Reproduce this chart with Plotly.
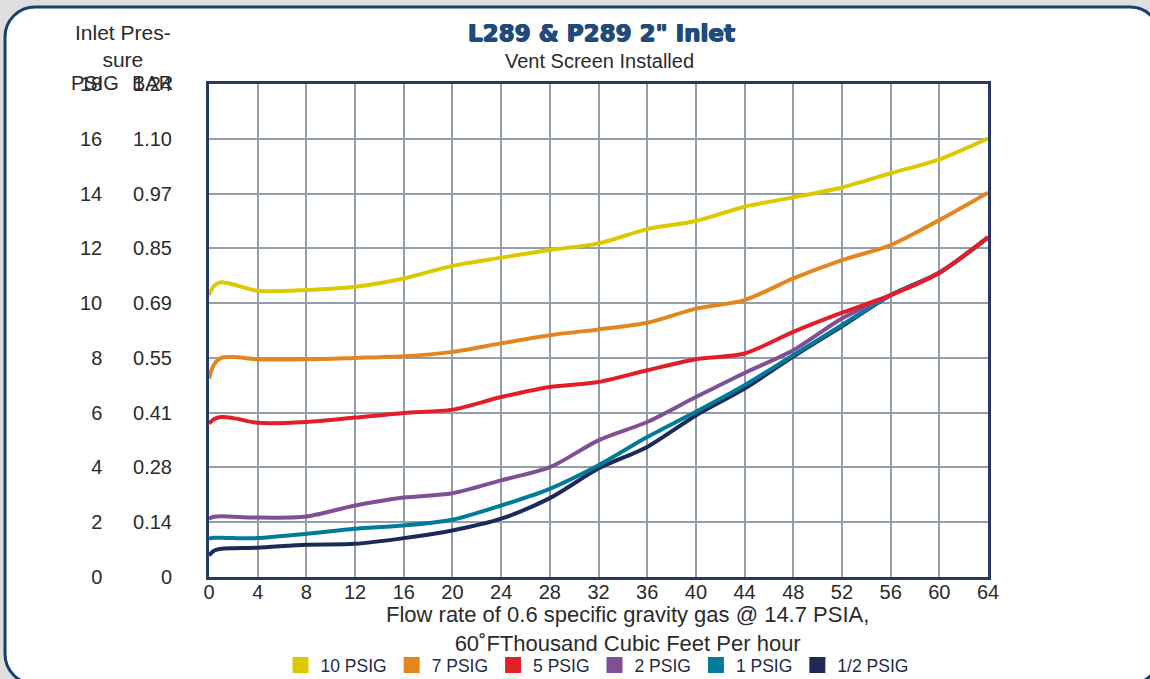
import plotly.graph_objects as go

# ---------------- data ----------------
flow_x = [0, 0.4, 1, 2, 4, 8, 12, 16, 20, 24, 28, 32, 36, 40, 44, 48, 52, 56, 60, 64]

psig_10 = [10.3, 10.62, 10.76, 10.68, 10.45, 10.48, 10.6, 10.9, 11.36, 11.66, 11.94, 12.18, 12.7, 13.0, 13.52, 13.86, 14.22, 14.74, 15.25, 16.02]
psig_7 = [7.25, 7.75, 8.0, 8.03, 7.95, 7.95, 8.0, 8.06, 8.22, 8.53, 8.83, 9.04, 9.28, 9.8, 10.11, 10.9, 11.57, 12.12, 13.03, 14.03]
psig_5 = [5.6, 5.76, 5.84, 5.8, 5.63, 5.66, 5.82, 5.99, 6.11, 6.57, 6.94, 7.12, 7.55, 7.95, 8.16, 8.95, 9.65, 10.29, 11.11, 12.4]
psig_2 = [2.13, 2.2, 2.22, 2.2, 2.17, 2.21, 2.61, 2.9, 3.06, 3.53, 4.01, 4.99, 5.66, 6.57, 7.45, 8.28, 9.44, 10.29, 11.11, 12.4]
psig_1 = [1.4, 1.43, 1.43, 1.42, 1.42, 1.58, 1.76, 1.88, 2.09, 2.61, 3.22, 4.08, 5.11, 6.03, 7.0, 8.1, 9.2, 10.29, 11.11, 12.4]
psig_half = [0.79, 0.96, 1.03, 1.05, 1.07, 1.18, 1.21, 1.42, 1.7, 2.13, 2.88, 3.96, 4.75, 5.9, 6.88, 8.05, 9.15, 10.29, 11.11, 12.4]

series_names = ["10 PSIG", "7 PSIG", "5 PSIG", "2 PSIG", "1 PSIG", "1/2 PSIG"]
series_values = [psig_10, psig_7, psig_5, psig_2, psig_1, psig_half]
series_colors = ["#dcc900", "#e3861f", "#e31e28", "#7f5096", "#007b9b", "#1b2a58"]

x_ticks = list(range(0, 65, 4))
y_ticks = list(range(0, 19, 2))
psig_labels = ["0", "2", "4", "6", "8", "10", "12", "14", "16", "18"]
bar_labels = ["0", "0.14", "0.28", "0.41", "0.55", "0.69", "0.85", "0.97", "1.10", "1.24"]

title_text = "L289 & P289 2\" Inlet"
subtitle_text = "Vent Screen Installed"
y_header = "Inlet Pres-<br>sure"
x_title = "Flow rate of 0.6 specific gravity gas @ 14.7 PSIA,<br>60\u02daFThousand Cubic Feet Per hour"

# ---------------- layout geometry ----------------
W, H = 1150, 679
ML, MR, MT, MB = 209, 162, 84, 102
PW = W - ML - MR
PH = H - MT - MB


def px(x):
    return (x - ML) / PW


def py(y):
    return (H - MB - y) / PH


fig = go.Figure()

# lines drawn from lowest to highest so the red line sits on top at the right end
for name, vals, col in reversed(list(zip(series_names, series_values, series_colors))):
    fig.add_trace(go.Scatter(
        x=flow_x, y=vals, mode="lines", name=name,
        line=dict(color=col, width=4, shape="spline", smoothing=0.8),
        showlegend=False, hoverinfo="x+y+name",
    ))

# legend squares
for name, col in zip(series_names, series_colors):
    fig.add_trace(go.Scatter(
        x=[None], y=[None], mode="markers", name=name, yaxis="y2",
        marker=dict(symbol="square", size=18, color=col),
        showlegend=True,
    ))


def rounded_rect(x0, y0, x1, y1, r):
    k = 0.5523 * r
    pts = [
        f"M {px(x0 + r)},{py(y0)}",
        f"L {px(x1 - r)},{py(y0)}",
        f"C {px(x1 - r + k)},{py(y0)} {px(x1)},{py(y0 + r - k)} {px(x1)},{py(y0 + r)}",
        f"L {px(x1)},{py(y1 - r)}",
        f"C {px(x1)},{py(y1 - r + k)} {px(x1 - r + k)},{py(y1)} {px(x1 - r)},{py(y1)}",
        f"L {px(x0 + r)},{py(y1)}",
        f"C {px(x0 + r - k)},{py(y1)} {px(x0)},{py(y1 - r + k)} {px(x0)},{py(y1 - r)}",
        f"L {px(x0)},{py(y0 + r)}",
        f"C {px(x0)},{py(y0 + r - k)} {px(x0 + r - k)},{py(y0)} {px(x0 + r)},{py(y0)}",
        "Z",
    ]
    return " ".join(pts)


shapes = [dict(
    type="path", xref="paper", yref="paper", layer="below",
    path=rounded_rect(5, 7, 1160, 684, 30),
    fillcolor="white", line=dict(color="#173f70", width=3),
)]

txt = "#2b2b2b"
title_col = "#1f4b7c"
annotations = [
    dict(text="<b>" + title_text + "</b>", x=px(601), y=py(33), xref="paper", yref="paper",
         showarrow=False, xanchor="center", yanchor="middle",
         font=dict(family="DejaVu Sans", size=23, color=title_col,
                   shadow=f"0.7px 0 0 {title_col}, -0.7px 0 0 {title_col}, 0 0.5px 0 {title_col}")),
    dict(text=subtitle_text, x=px(599), y=py(61), xref="paper", yref="paper",
         showarrow=False, xanchor="center", yanchor="middle",
         font=dict(family="Liberation Sans", size=20, color=txt)),
    dict(text=y_header, x=px(123), y=py(46), xref="paper", yref="paper",
         showarrow=False, xanchor="center", yanchor="middle",
         font=dict(family="Liberation Sans", size=21, color=txt)),
    dict(text="PSIG", x=px(95), y=py(83), xref="paper", yref="paper",
         showarrow=False, xanchor="center", yanchor="middle",
         font=dict(family="Liberation Sans", size=20, color=txt)),
    dict(text="BAR", x=px(152), y=py(83), xref="paper", yref="paper",
         showarrow=False, xanchor="center", yanchor="middle",
         font=dict(family="Liberation Sans", size=20, color=txt)),
    dict(text=x_title, x=px(627), y=py(629), xref="paper", yref="paper",
         showarrow=False, xanchor="center", yanchor="middle",
         font=dict(family="Liberation Sans", size=22, color=txt)),
]

grid_col = "#939eaa"
axis_col = "#263863"

fig.update_layout(
    width=W, height=H, autosize=False,
    margin=dict(l=ML, r=MR, t=MT, b=MB, pad=0, autoexpand=False),
    paper_bgcolor="#dedede", plot_bgcolor="white",
    shapes=shapes, annotations=annotations,
    xaxis=dict(
        range=[0, 64], tickmode="array", tickvals=x_ticks,
        showgrid=True, gridcolor=grid_col, gridwidth=1.5,
        showline=True, mirror=True, linecolor=axis_col, linewidth=2.5,
        zeroline=False, ticks="", ticklabelstandoff=-5,
        tickfont=dict(family="Liberation Sans", size=20, color=txt),
    ),
    yaxis=dict(
        range=[0, 18], tickmode="array", tickvals=y_ticks, ticktext=psig_labels,
        showgrid=True, gridcolor=grid_col, gridwidth=1.5,
        showline=True, mirror=True, linecolor=axis_col, linewidth=2.5,
        zeroline=False, ticks="", ticklabelstandoff=100,
        tickfont=dict(family="Liberation Sans", size=20, color=txt),
    ),
    yaxis2=dict(
        range=[0, 18], tickmode="array", tickvals=y_ticks, ticktext=bar_labels,
        overlaying="y", side="left", showgrid=False, showline=False,
        zeroline=False, ticks="", ticklabelstandoff=36,
        tickfont=dict(family="Liberation Sans", size=20, color=txt),
    ),
    legend=dict(
        orientation="h", x=px(597), xanchor="center", y=py(665), yanchor="middle",
        font=dict(family="Liberation Sans", size=17.5, color="#1e2b45"),
        bgcolor="rgba(0,0,0,0)", itemclick=False, itemdoubleclick=False,
        tracegroupgap=0,
    ),
    showlegend=True,
)

fig.write_html("out.html", config={"displayModeBar": False},
               post_script="document.body.style.margin='0';document.body.style.padding='0';")
